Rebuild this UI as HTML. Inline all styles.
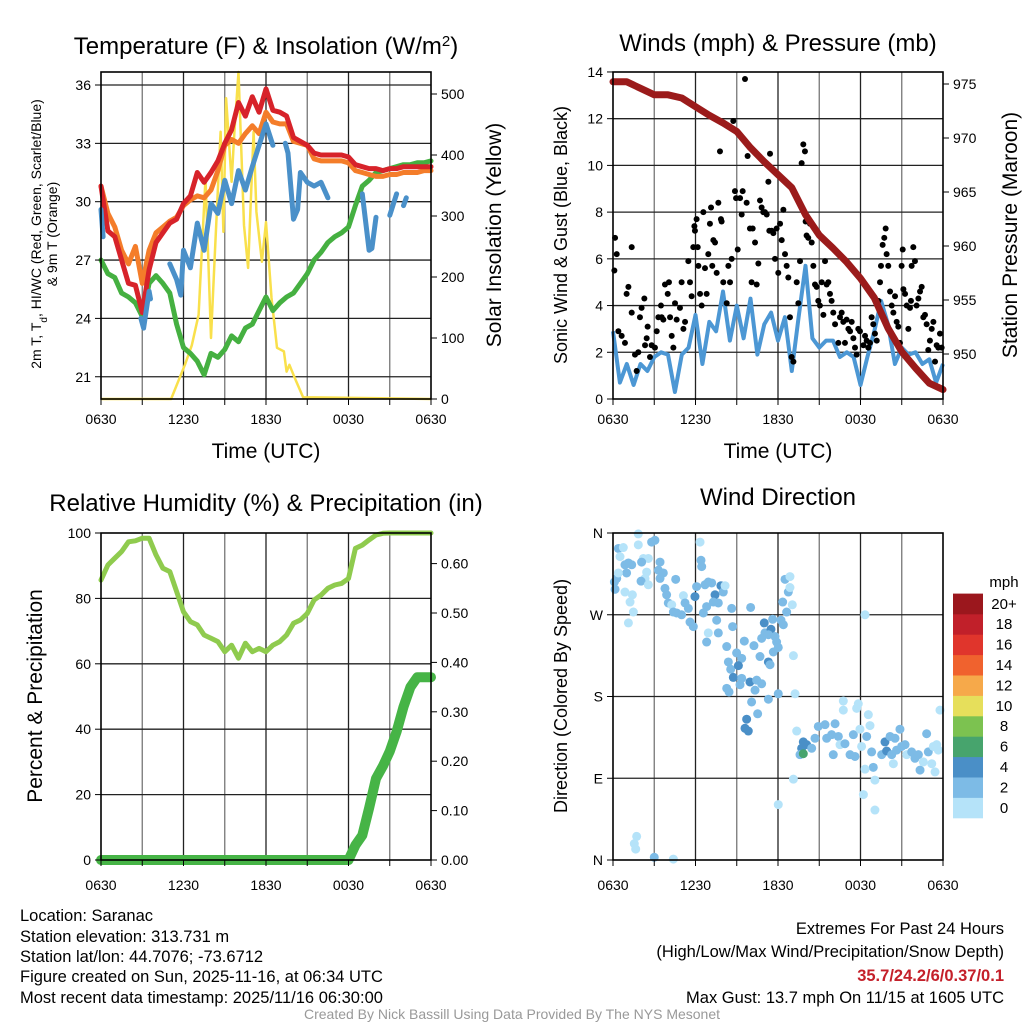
<!DOCTYPE html>
<html><head><meta charset="utf-8">
<style>
html,body{margin:0;padding:0;background:#fff;}
svg{display:block;font-family:"Liberation Sans",Arial,sans-serif;}
</style></head>
<body>
<svg id="c" width="1024" height="1024" viewBox="0 0 1024 1024" xmlns="http://www.w3.org/2000/svg">
<rect width="1024" height="1024" fill="#fff"/>
<g font-size="24" text-anchor="middle" fill="#000">
<text x="266" y="54">Temperature (F) &amp; Insolation (W/m<tspan baseline-shift="super" font-size="15">2</tspan>)</text>
<text x="778" y="51">Winds (mph) &amp; Pressure (mb)</text>
<text x="266" y="511">Relative Humidity (%) &amp; Precipitation (in)</text>
<text x="778" y="505">Wind Direction</text>
</g>
<g font-size="21" text-anchor="middle">
<text x="266" y="458">Time (UTC)</text>
<text x="778" y="458">Time (UTC)</text>
<text transform="translate(501,235) rotate(-90)">Solar Insolation (Yellow)</text>
<text transform="translate(1017,235) rotate(-90)">Station Pressure (Maroon)</text>
<text transform="translate(42,696) rotate(-90)">Percent &amp; Precipitation</text>
</g>
<g font-size="18" text-anchor="middle">
<text transform="translate(567,235) rotate(-90)">Sonic Wind &amp; Gust (Blue, Black)</text>
<text transform="translate(567,696) rotate(-90)">Direction (Colored By Speed)</text>
</g>
<g font-size="14" text-anchor="middle">
<text transform="translate(41,234) rotate(-90)">2m T, T<tspan baseline-shift="sub" font-size="10">d</tspan>, HI/WC (Red, Green, Scarlet/Blue)</text>
<text transform="translate(57,234) rotate(-90)">&amp; 9m T (Orange)</text>
</g>
<g font-size="16.5" fill="#000">
<text x="20" y="921">Location: Saranac</text>
<text x="20" y="942">Station elevation: 313.731 m</text>
<text x="20" y="962">Station lat/lon: 44.7076; -73.6712</text>
<text x="20" y="982">Figure created on Sun, 2025-11-16, at 06:34 UTC</text>
<text x="20" y="1003">Most recent data timestamp: 2025/11/16 06:30:00</text>
</g>
<g font-size="16.5" text-anchor="end">
<text x="1004" y="934">Extremes For Past 24 Hours</text>
<text x="1004" y="957">(High/Low/Max Wind/Precipitation/Snow Depth)</text>
<text x="1004" y="981" fill="#c4202a" font-weight="bold">35.7/24.2/6/0.37/0.1</text>
<text x="1004" y="1003">Max Gust: 13.7 mph On 11/15 at 1605 UTC</text>
</g>
<text x="512" y="1019" font-size="14" fill="#999" text-anchor="middle">Created By Nick Bassill Using Data Provided By The NYS Mesonet</text>
<g id="plots"></g>
</svg>
<script>
// ---------- data ----------
const xTickLabels = ["0630","1230","1830","0030","0630"];
const tempTicks = [21,24,27,30,33,36];
const solarTicks = [0,100,200,300,400,500];
const windTicks = [0,2,4,6,8,10,12,14];
const pressTicks = [950,955,960,965,970,975];
const rhTicks = [0,20,40,60,80,100];
const precipTicks = [0,0.1,0.2,0.3,0.4,0.5,0.6];
const dirTicks = [0,90,180,270,360];
const dirTickLabels = ["N","E","S","W","N"];

const temp2m = [30.8,28.5,28.2,27.0,25.8,25.7,24.3,26.5,27.9,28.4,28.9,29.1,29.9,30.3,31.5,31.0,31.5,32.1,33.0,33.7,35.1,34.4,35.4,34.6,35.8,34.7,34.6,34.4,33.3,33.1,32.9,32.5,32.4,32.4,32.4,32.4,32.3,31.9,31.8,31.7,31.7,31.6,31.7,31.7,31.8,31.8,31.8,31.8,31.8];
const temp9m = [30.8,29.4,28.7,27.5,26.8,27.7,25.8,27.5,28.4,28.7,29.0,29.2,29.8,30.1,30.3,30.2,30.6,31.6,32.9,33.2,33.0,33.5,33.9,33.5,34.6,34.1,34.0,34.0,33.1,33.0,32.9,32.2,32.1,32.1,32.1,32.1,32.0,31.6,31.5,31.4,31.3,31.3,31.4,31.4,31.5,31.5,31.5,31.6,31.6];
const dewpt = [27.0,26.3,26.1,25.3,25.1,24.8,24.1,25.8,26.2,25.8,25.3,23.7,22.5,22.2,21.8,21.1,22.2,22.0,22.4,23.1,22.8,23.5,23.7,24.4,25.1,24.4,24.8,25.1,25.3,25.8,26.3,27.0,27.4,27.9,28.2,28.4,28.7,29.8,30.8,31.1,31.5,31.6,31.7,31.8,31.9,31.9,32.0,32.0,32.1];
const wcHours = [0,0.15,null,2.9,3.1,3.5,3.6,null,5.0,5.5,5.8,6.0,6.5,7.0,7.5,8.0,8.5,9.0,9.5,10.0,10.5,11.0,11.5,12.0,12.5,null,13.4,13.6,14.0,14.3,14.5,15.0,15.5,16.0,16.5,null,19.0,19.5,19.7,20.0,null,21.0,21.5,null,22.0,22.2];
const wcVals  = [29.6,28.2,null,24.0,23.5,25.4,25.0,null,26.8,26.0,25.2,27.5,26.6,28.9,27.5,29.9,29.4,31.1,29.9,31.6,30.6,31.8,32.9,34.0,32.9,null,33.0,32.5,29.1,29.6,31.5,31.0,30.8,31.0,30.2,null,30.4,27.5,27.6,29.2,null,29.3,30.4,null,29.8,30.2];
const solarHours = [0,5.1,6.1,6.6,7.1,7.6,8.0,8.3,8.7,8.9,9.1,9.5,9.7,10.0,10.4,10.7,11.1,11.3,11.7,12.0,12.4,12.8,13.3,13.5,13.7,14.1,14.7,24];
const solarVals  = [0,0,56,88,138,362,100,247,438,274,493,356,438,536,285,215,438,307,225,290,166,84,78,45,56,34,3,0];

const pressure = [975.2,975.2,974.6,974.0,974.0,973.7,972.9,972.1,971.4,970.6,969.1,967.8,966.6,965.4,962.9,961.0,959.8,958.5,957.0,955.2,952.4,950.2,948.7,947.3,946.7];
const sonicWind = [2.9,0.7,1.5,0.6,1.5,1.2,1.8,2.0,1.9,0.3,1.9,2.2,3.6,1.5,3.3,2.9,4.6,2.5,4.0,2.6,4.3,1.9,3.2,3.7,2.5,3.5,1.2,3.5,5.7,2.6,2.2,2.5,2.5,1.8,2.0,1.8,0.6,1.8,2.9,4.2,3.2,1.5,2.2,1.9,2.0,1.5,1.7,0.7,1.5];
const gustHours = [0.15,0.27,0.1,0.39,0.63,0.87,0.99,1.12,1.36,1.36,1.6,1.72,1.84,1.96,2.08,2.28,2.33,2.45,2.52,2.69,2.81,3.05,3.18,3.3,3.49,3.54,3.66,3.78,3.98,4.07,4.15,4.27,4.39,4.51,4.63,4.87,4.99,5.12,5.24,5.48,5.6,5.72,5.84,5.92,5.96,6.08,6.16,6.21,6.33,6.45,6.57,6.69,6.81,6.93,7.05,7.13,7.22,7.3,7.42,7.54,7.66,7.78,7.85,7.9,8.02,8.27,8.39,8.51,8.63,8.75,8.87,8.95,9.07,9.24,9.36,9.43,9.6,9.72,9.79,9.96,10.08,10.16,10.33,10.45,10.57,10.69,10.81,10.93,11.05,11.18,11.3,11.37,11.42,11.54,11.66,11.78,11.9,12.02,12.15,12.27,12.39,12.51,12.63,12.75,12.87,12.99,13.12,13.36,13.48,13.6,13.72,13.84,13.96,14.01,14.08,14.2,14.33,14.45,14.57,14.69,14.81,14.93,15.05,15.18,15.3,15.42,15.54,15.66,15.78,15.9,16.02,16.15,16.39,16.51,16.63,16.75,16.87,16.99,17.12,17.24,17.36,17.48,17.6,17.72,17.84,17.96,18.21,18.33,18.45,18.57,18.69,18.81,18.93,19.05,19.18,19.3,19.42,19.49,19.61,19.73,19.83,19.9,20.02,20.15,20.27,20.39,20.51,20.63,20.75,20.87,20.99,21.07,21.12,21.24,21.36,21.48,21.6,21.67,21.72,21.84,21.96,22.08,22.21,22.33,22.45,22.57,22.69,22.81,22.93,23.05,23.18,23.3,23.42,23.54,23.66,23.78,23.9];
const gustMph = [6.9,6.2,5.5,2.9,2.7,2.4,4.5,4.8,6.5,3.7,1.9,1.2,2.0,3.5,3.9,4.3,2.3,2.6,3.1,1.8,2.3,2.2,2.9,3.5,4.0,3.5,3.4,4.9,4.5,5.0,3.5,2.7,2.2,4.1,3.4,3.9,5.0,3.0,3.3,5.9,5.0,4.4,6.5,7.4,7.2,7.7,6.5,5.7,4.5,4.0,8.0,5.6,4.5,6.2,7.5,8.2,5.7,6.8,6.7,5.4,8.4,10.6,7.7,7.6,5.0,4.1,5.7,5.0,6.0,11.9,8.9,8.6,6.4,8.6,7.9,8.9,13.7,8.4,10.4,7.3,5.0,7.3,6.7,4.9,5.8,8.5,8.2,8.0,8.0,7.9,9.3,7.2,10.5,7.2,7.1,6.0,7.3,5.4,7.5,6.8,8.1,6.2,5.7,5.2,3.5,1.8,1.6,5.0,4.1,5.9,10.1,10.9,10.6,7.6,7.0,6.9,7.5,6.7,5.7,4.9,4.8,4.2,4.0,5.0,3.6,5.9,4.9,5.0,4.5,4.2,3.7,3.2,2.4,3.5,3.7,3.3,2.4,3.4,3.0,2.9,3.3,2.6,2.2,1.9,3.0,2.9,2.3,2.7,2.5,2.2,2.4,3.5,3.2,2.8,2.5,4.2,5.0,5.7,6.6,6.9,7.3,6.2,5.7,4.6,4.0,3.7,4.4,3.3,3.1,2.4,5.7,6.4,4.7,4.5,4.0,3.0,3.9,4.2,5.7,6.5,5.9,4.0,4.3,4.6,4.8,3.5,3.6,3.2,2.1,2.5,3.0,3.3,1.6,2.3,2.2,2.8,2.2];

const rh = [85.6,90.2,92.3,94.3,97.3,97.6,98.4,98.4,93.3,89.2,88.2,82.1,75.9,72.9,71.9,68.8,67.8,66.8,63.7,65.7,61.7,66.3,63.7,64.7,63.7,65.7,66.8,68.8,72.4,73.4,75.4,79.5,81.0,83.1,84.1,84.6,86.1,95.3,96.3,97.9,99.4,99.9,100,100,100,100,100,100,100];
const precip = [0,0,0,0,0,0,0,0,0,0,0,0,0,0,0,0,0,0,0,0,0,0,0,0,0,0,0,0,0,0,0,0,0,0,0,0,0,0.03,0.05,0.105,0.165,0.19,0.22,0.26,0.31,0.35,0.37,0.37,0.37];

const dirHours = [1.84,0.39,0.75,0.51,1.12,0.87,1.36,0.99,0.27,0.1,0.15,0.39,0.87,1.24,1.41,1.48,1.12,1.84,2.21,2.57,2.08,2.45,2.33,2.04,2.57,2.81,3.05,3.42,3.3,3.66,3.42,3.78,3.9,4.02,4.27,4.56,4.39,4.63,5.12,5.24,4.99,5.48,5.6,5.84,5.96,6.08,6.33,6.4,6.45,6.69,6.93,7.18,7.42,7.85,8.02,7.66,7.3,6.81,6.57,6.93,6.81,7.66,7.54,8.15,8.63,8.7,8.27,8.99,9.36,8.39,8.56,9.12,10.01,9.55,10.25,10.69,11.0,11.05,11.49,11.61,10.81,11.3,11.78,11.9,12.02,11.66,11.3,11.42,8.75,9.36,9.24,9.96,10.45,10.81,10.33,10.08,10.52,11.3,12.02,8.27,8.44,9.72,9.6,9.84,12.51,12.87,12.75,12.87,12.34,13.04,12.63,12.22,12.39,13.12,13.24,13.36,13.12,12.02,13.84,13.72,14.08,13.6,13.84,14.45,14.69,14.93,15.42,15.54,15.9,16.15,16.39,16.51,16.02,16.75,16.75,16.87,17.24,17.48,17.6,17.84,17.72,17.96,18.08,18.45,18.57,18.69,18.81,19.05,18.93,18.33,18.21,19.05,18.33,19.54,19.78,19.9,20.15,20.51,20.87,20.27,20.63,20.99,21.24,21.36,21.72,21.96,22.21,22.33,22.57,22.81,22.93,23.3,23.54,23.66,23.18,23.42,23.78,1.72,1.55,1.65,3.0,4.39,20.39];
const dirDeg = [359,343,344,334,327,325,325,316,310,306,298,316,295,284,292,273,261,347,332,332,328,317,310,307,303,350,352,328,319,316,310,299,292,283,281,309,273,272,291,283,270,277,262,257,290,301,350,330,323,303,306,305,292,302,295,283,284,279,272,250,240,250,264,302,277,257,235,228,222,218,210,214,278,241,236,224,261,250,254,265,244,248,246,240,234,229,218,215,201,200,193,196,198,194,187,174,161,177,183,189,185,155,145,142,309,312,295,300,284,281,273,264,259,225,183,142,89,61,130,123,127,116,117,123,134,147,149,134,138,150,136,127,116,175,165,128,116,138,114,172,167,144,125,136,160,148,119,88,102,100,72,55,270,116,130,120,136,134,144,116,121,125,127,116,119,112,116,99,108,139,119,125,127,121,106,97,165,26,18,12,3,1,106];
const dirSpeed = [1,3,1,1,3,3,3,3,3,3,3,1,1,1,1,1,1,1,1,1,3,1,1,3,1,3,3,3,3,3,3,3,3,3,1,3,3,3,1,3,3,3,3,3,5,3,1,3,3,3,3,3,5,5,3,3,3,3,3,1,3,3,3,1,3,3,3,3,3,3,3,5,3,3,3,3,5,3,5,3,3,3,3,3,3,3,5,3,5,3,3,5,3,3,3,3,3,3,3,3,3,5,5,5,3,1,3,1,3,1,3,3,3,1,1,1,1,1,5,5,5,3,7,3,3,3,3,3,3,3,3,1,3,1,1,3,3,3,3,1,1,1,1,3,1,1,3,1,3,1,1,1,1,3,5,5,3,3,3,3,3,3,3,1,3,3,3,3,1,3,3,1,1,1,1,1,1,1,1,1,3,1,1];

const cbLabels = ["0","2","4","6","8","10","12","14","16","18","20+"];
const cbColors = ["#b5e3f9","#7dbbe6","#4a8fc7","#47a46d","#7cc250","#e6df5b","#f6a94a","#f0622e","#e0352c","#c1202a","#9b171d"];

// ---------- helpers ----------
const NS="http://www.w3.org/2000/svg";
const root=document.getElementById('plots');
function mk(tag,attrs,parent){const e=document.createElementNS(NS,tag);for(const k in attrs)e.setAttribute(k,attrs[k]);(parent||root).appendChild(e);return e;}
function txt(x,y,s,anchor,size,parent){const t=mk('text',{x:x,y:y,'text-anchor':anchor,'font-size':size},parent);t.textContent=s;return t;}
function linePath(xs,ys,fx,fy){let d="",pen=false;for(let i=0;i<xs.length;i++){if(xs[i]==null||ys[i]==null){pen=false;continue;}d+=(pen?"L":"M")+fx(xs[i]).toFixed(1)+","+fy(ys[i]).toFixed(1);pen=true;}return d;}
const half=temp2m.map((_,i)=>i*0.5);
const hourly=pressure.map((_,i)=>i);

function panelFrame(x0,y0,w,h,name,hLines,hFn){
  const g=mk('g',{});  
  for(let k=1;k<8;k++){const x=x0+w*k/8;mk('line',{x1:x,x2:x,y1:y0,y2:y0+h,stroke:(k%2==0)?'#222':'#777','stroke-width':1.3},g);}
  hLines.forEach(v=>{const y=hFn(v);if(y>y0+1&&y<y0+h-1)mk('line',{x1:x0,x2:x0+w,y1:y,y2:y,stroke:'#222','stroke-width':1.3},g);});
  return g;
}
function border(x0,y0,w,h,name){const r=mk('rect',{x:x0,y:y0,width:w,height:h,fill:'none',stroke:'#000','stroke-width':1.6});}
function xAxis(x0,y0,w,h,name,ty){
  const g=mk('g',{'font-size':14});  
  for(let k=0;k<=8;k++){const x=x0+w*k/8;mk('line',{x1:x,x2:x,y1:y0+h,y2:y0+h+6,stroke:'#000'},g);}
  xTickLabels.forEach((s,i)=>txt(x0+w*i/4,ty,s,'middle',14,g));
}
function yAxis(vals,labels,fn,x,side,name){
  const g=mk('g',{'font-size':14});  
  vals.forEach((v,i)=>{const y=fn(v);const dx=side=='l'?-6:6;mk('line',{x1:x,x2:x+dx,y1:y,y2:y,stroke:'#000'},g);
    txt(side=='l'?x-10:x+10,y+5,labels[i],side=='l'?'end':'start',14,g);});
}

// ---------- panel 1: temperature ----------
(function(){
  const x0=101,y0=72,w=330,h=327;
  const fx=t=>x0+t*w/24, fy=v=>85+(36-v)*19.45, fs=v=>399-v*0.61;
  panelFrame(x0,y0,w,h,'temperature',tempTicks,fy);
  const s=mk('path',{d:linePath(solarHours,solarVals,fx,fs),fill:'none',stroke:'#f9e04b','stroke-width':2.5,'stroke-linejoin':'round'});
   
  const d=mk('path',{d:linePath(half,dewpt,fx,fy),fill:'none',stroke:'#45b041','stroke-width':5,'stroke-linejoin':'round','stroke-linecap':'round'});
   
  const o=mk('path',{d:linePath(half,temp9m,fx,fy),fill:'none',stroke:'#f47d2a','stroke-width':5,'stroke-linejoin':'round','stroke-linecap':'round'});
   
  const r=mk('path',{d:linePath(half,temp2m,fx,fy),fill:'none',stroke:'#d7232a','stroke-width':5,'stroke-linejoin':'round','stroke-linecap':'round'});
   
  const b=mk('path',{d:linePath(wcHours,wcVals,fx,fy),fill:'none',stroke:'#4a90c9','stroke-width':5,'stroke-linejoin':'round','stroke-linecap':'round'});
   
  border(x0,y0,w,h,'temperature');
  xAxis(x0,y0,w,h,'temperature',424);
  yAxis(tempTicks,tempTicks.map(String),fy,x0,'l','temperature-y-axis');
  yAxis(solarTicks,solarTicks.map(String),fs,x0+w,'r','insolation-y-axis');
})();

// ---------- panel 2: winds ----------
(function(){
  const x0=613,y0=72,w=330,h=327;
  const fx=t=>x0+t*w/24, fy=v=>399-v*23.36, fp=v=>354-(v-950)*10.8;
  panelFrame(x0,y0,w,h,'winds',windTicks,fy);
  const b=mk('path',{d:linePath(half,sonicWind,fx,fy),fill:'none',stroke:'#4c97d4','stroke-width':4,'stroke-linejoin':'round'});
   
  const g=mk('g',{});  
  gustHours.forEach((t,i)=>{const c=mk('circle',{cx:fx(t),cy:fy(gustMph[i]),r:3,fill:'#000'},g);
    
    });
  const p=mk('path',{d:linePath(hourly,pressure,fx,fp),fill:'none',stroke:'#9b1b1b','stroke-width':7,'stroke-linejoin':'round','stroke-linecap':'round'});
   
  border(x0,y0,w,h,'winds');
  xAxis(x0,y0,w,h,'winds',424);
  yAxis(windTicks,windTicks.map(String),fy,x0,'l','wind-y-axis');
  yAxis(pressTicks,pressTicks.map(String),fp,x0+w,'r','pressure-y-axis');
})();

// ---------- panel 3: humidity ----------
(function(){
  const x0=101,y0=533,w=330,h=327;
  const fx=t=>x0+t*w/24, fy=v=>860-v*3.27, fpr=v=>860-v*494;
  panelFrame(x0,y0,w,h,'humidity',rhTicks,fy);
  const r=mk('path',{d:linePath(half,rh,fx,fy),fill:'none',stroke:'#8fcb4e','stroke-width':5,'stroke-linejoin':'round','stroke-linecap':'round'});
   
  const p=mk('path',{d:linePath(half,precip,fx,fpr),fill:'none',stroke:'#46b446','stroke-width':10,'stroke-linejoin':'round','stroke-linecap':'round'});
   
  border(x0,y0,w,h,'humidity');
  xAxis(x0,y0,w,h,'humidity',890);
  yAxis(rhTicks,rhTicks.map(String),fy,x0,'l','humidity-y-axis');
  yAxis(precipTicks,precipTicks.map(v=>v.toFixed(2)),fpr,x0+w,'r','precipitation-y-axis');
})();

// ---------- panel 4: wind direction ----------
(function(){
  const x0=613,y0=533,w=330,h=327;
  const fx=t=>x0+t*w/24, fy=v=>860-v*0.9083;
  panelFrame(x0,y0,w,h,'direction',dirTicks,fy);
  const g=mk('g',{});  
  dirHours.forEach((t,i)=>{const ci=Math.min(cbColors.length-1,Math.floor(dirSpeed[i]/2));
    const c=mk('circle',{cx:fx(t),cy:fy(dirDeg[i]),r:4.5,fill:cbColors[ci]},g);
    
    });
  border(x0,y0,w,h,'direction');
  xAxis(x0,y0,w,h,'direction',890);
  yAxis(dirTicks,dirTickLabels,fy,x0,'l','direction-y-axis');
  const cb=mk('g',{});  
  const bx=953,bw=30,bh=20.4,bBot=818;
  cbColors.forEach((col,i)=>{const y=bBot-(i+1)*bh;mk('rect',{x:bx,y:y,width:bw,height:bh+0.3,fill:col},cb);
    txt(1004,y+bh/2+5,cbLabels[i],'middle',15,cb);});
  txt(1004,587,'mph','middle',15,cb);
})();
</script>
</body></html>
